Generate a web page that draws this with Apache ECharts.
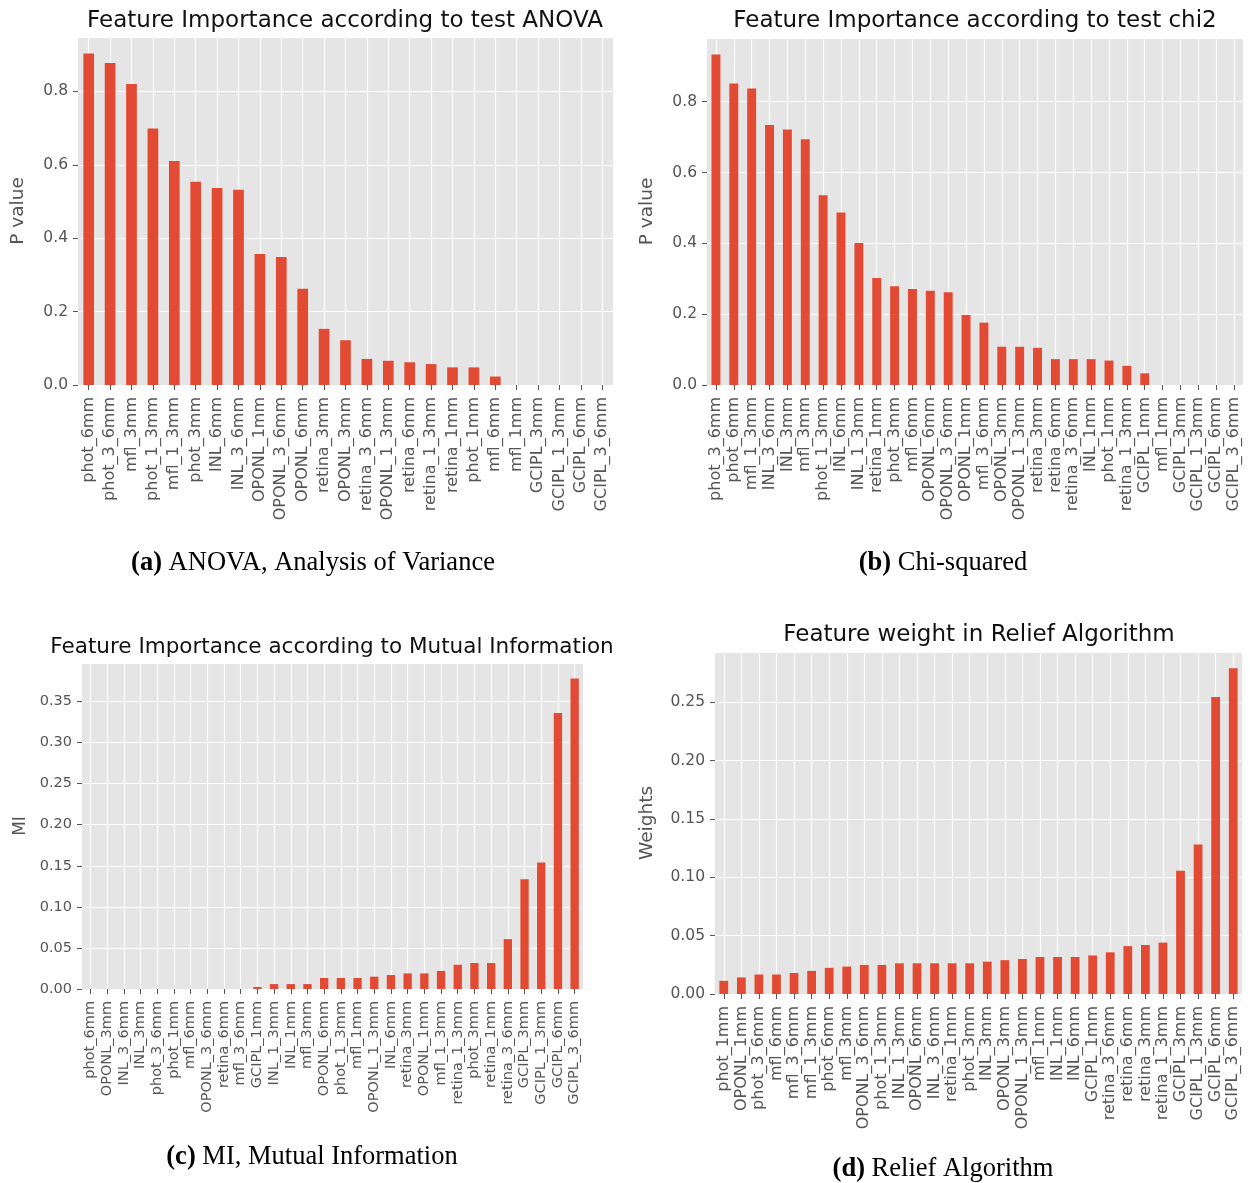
<!DOCTYPE html>
<html>
<head>
<meta charset="utf-8">
<script src="https://cdn.jsdelivr.net/npm/echarts@6/dist/echarts.min.js"></script>
<style>
html,body{margin:0;padding:0;background:#fff;}
#chart{width:1250px;height:1183px;}
</style>
</head>
<body>
<div id="chart"></div>
<script>
// ---------- DATA ----------
const anovaCats = ['phot_6mm','phot_3_6mm','mfl_3mm','phot_1_3mm','mfl_1_3mm','phot_3mm','INL_6mm','INL_3_6mm','OPONL_1mm','OPONL_3_6mm','OPONL_6mm','retina_3mm','OPONL_3mm','retina_3_6mm','OPONL_1_3mm','retina_6mm','retina_1_3mm','retina_1mm','phot_1mm','mfl_6mm','mfl_1mm','GCIPL_3mm','GCIPL_1_3mm','GCIPL_6mm','GCIPL_3_6mm'];
const anovaVals = [0.903,0.877,0.820,0.699,0.610,0.554,0.537,0.532,0.357,0.349,0.262,0.153,0.122,0.071,0.066,0.062,0.057,0.048,0.048,0.023,0,0,0,0,0];

const chi2Cats = ['phot_3_6mm','phot_6mm','mfl_1_3mm','INL_3_6mm','INL_3mm','mfl_3mm','phot_1_3mm','INL_6mm','INL_1_3mm','retina_1mm','phot_3mm','mfl_6mm','OPONL_6mm','OPONL_3_6mm','OPONL_1mm','mfl_3_6mm','OPONL_3mm','OPONL_1_3mm','retina_3mm','retina_6mm','retina_3_6mm','INL_1mm','phot_1mm','retina_1_3mm','GCIPL_1mm','mfl_1mm','GCIPL_3mm','GCIPL_1_3mm','GCIPL_6mm','GCIPL_3_6mm'];
const chi2Vals = [0.933,0.851,0.837,0.734,0.721,0.694,0.536,0.487,0.401,0.302,0.279,0.271,0.266,0.262,0.198,0.176,0.108,0.108,0.105,0.073,0.073,0.073,0.069,0.054,0.033,0,0,0,0,0];

const miCats = ['phot_6mm','OPONL_3mm','INL_3_6mm','INL_3mm','phot_3_6mm','phot_1mm','mfl_6mm','OPONL_3_6mm','retina_6mm','mfl_3_6mm','GCIPL_1mm','INL_1_3mm','INL_1mm','mfl_3mm','OPONL_6mm','phot_1_3mm','mfl_1mm','OPONL_1_3mm','INL_6mm','retina_3mm','OPONL_1mm','mfl_1_3mm','retina_1_3mm','phot_3mm','retina_1mm','retina_3_6mm','GCIPL_3mm','GCIPL_1_3mm','GCIPL_6mm','GCIPL_3_6mm'];
const miVals = [0,0,0,0,0,0,0,0,0,0,0.0024,0.006,0.006,0.006,0.0134,0.0134,0.0134,0.015,0.017,0.019,0.019,0.022,0.0295,0.0316,0.0316,0.0607,0.1335,0.154,0.336,0.378];

const reliefCats = ['phot_1mm','OPONL_1mm','phot_3_6mm','mfl_6mm','mfl_3_6mm','mfl_1_3mm','phot_6mm','mfl_3mm','OPONL_3_6mm','phot_1_3mm','INL_1_3mm','OPONL_6mm','INL_3_6mm','retina_1mm','phot_3mm','INL_3mm','OPONL_3mm','OPONL_1_3mm','mfl_1mm','INL_1mm','INL_6mm','GCIPL_1mm','retina_3_6mm','retina_6mm','retina_3mm','retina_1_3mm','GCIPL_3mm','GCIPL_1_3mm','GCIPL_6mm','GCIPL_3_6mm'];
const reliefVals = [0.0113,0.0142,0.0167,0.0167,0.018,0.0198,0.0224,0.0235,0.0249,0.0249,0.0263,0.0263,0.0263,0.0263,0.0263,0.0277,0.029,0.030,0.0317,0.0317,0.0317,0.033,0.0357,0.041,0.042,0.044,0.1056,0.128,0.2545,0.279];

const titles = ['Feature Importance according to test ANOVA','Feature Importance according to test chi2','Feature Importance according to Mutual Information','Feature weight in Relief Algorithm'];
const yNames = ['P value','P value','MI','Weights'];
const yIntervals = [0.2,0.2,0.05,0.05];
const yDecimals = [1,1,2,2];
const captionTags = ['(a)','(b)','(c)','(d)'];
const captionTexts = ['ANOVA, Analysis of Variance','Chi-squared','MI, Mutual Information','Relief Algorithm'];

// ---------- LAYOUT ----------
const panels = [
  {cats: anovaCats, vals: anovaVals, grid:{left:78, top:37, width:535, height:348}, title:{x:345,y:10,fs:23}, xfs:16, yfs:15.5, nfs:18.5, nameGap:50, cap:{x:313,y:550}},
  {cats: chi2Cats, vals: chi2Vals, grid:{left:707, top:38, width:536, height:347}, title:{x:975,y:10,fs:23}, xfs:16, yfs:15.5, nfs:18.5, nameGap:50, cap:{x:943,y:550}},
  {cats: miCats, vals: miVals, grid:{left:82, top:663, width:501, height:326}, title:{x:332,y:636,fs:21.5}, xfs:14.5, yfs:14.5, nfs:17, nameGap:53, cap:{x:312,y:1144}},
  {cats: reliefCats, vals: reliefVals, grid:{left:715, top:652, width:527, height:342}, title:{x:979,y:624,fs:23}, xfs:16, yfs:15.5, nfs:18.5, nameGap:58, cap:{x:943,y:1156}}
];

const BAR = '#E24A33', BG = '#E5E5E5', TXT = '#555555';
const FONT = '"DejaVu Sans", sans-serif';
const SERIF = '"Liberation Serif", "Times New Roman", serif';

const option = {
  animation: false,
  backgroundColor: '#ffffff',
  title: [], grid: [], xAxis: [], yAxis: [], series: []
};

panels.forEach((p, i) => {
  option.title.push({
    text: titles[i], left: p.title.x, top: p.title.y, textAlign: 'center', padding: 0,
    textStyle: {fontFamily: FONT, fontSize: p.title.fs, fontWeight: 'normal', color: '#111'}
  });
  option.title.push({
    text: '{b|' + captionTags[i] + '} ' + captionTexts[i],
    left: p.cap.x, top: p.cap.y, textAlign: 'center', padding: 0,
    textStyle: {fontFamily: SERIF, fontSize: 26.5, fontWeight: 'normal', color: '#000',
      rich: {b: {fontFamily: SERIF, fontSize: 26.5, fontWeight: 'bold', color: '#000'}}}
  });
  option.grid.push(Object.assign({show: true, backgroundColor: BG, borderWidth: 0, containLabel: false}, p.grid));
  const itv = yIntervals[i], dec = yDecimals[i];
  const ymax = Math.max.apply(null, p.vals) * 1.05;
  option.xAxis.push({
    type: 'category', gridIndex: i, data: p.cats, boundaryGap: true,
    axisLine: {show: false},
    axisTick: {show: true, alignWithLabel: true, length: 5, lineStyle: {color: TXT, width: 1}},
    splitLine: {show: true, alignWithLabel: true, lineStyle: {color: '#ffffff', width: 1.2}},
    axisLabel: {interval: 0, rotate: 90, margin: 12, fontFamily: FONT, fontSize: p.xfs, color: TXT}
  });
  option.yAxis.push({
    type: 'value', gridIndex: i, min: 0, max: ymax, interval: itv,
    name: yNames[i], nameLocation: 'middle', nameRotate: 90, nameGap: p.nameGap,
    nameTextStyle: {fontFamily: FONT, fontSize: p.nfs, color: TXT},
    axisLine: {show: false},
    axisTick: {show: true, length: 5, lineStyle: {color: TXT, width: 1}},
    splitLine: {show: true, lineStyle: {color: '#ffffff', width: 1.2}},
    axisLabel: {margin: 10, fontFamily: FONT, fontSize: p.yfs, color: TXT, showMaxLabel: false,
      formatter: function (v) {
        const k = v / itv;
        if (Math.abs(k - Math.round(k)) > 1e-6) return '';
        return v.toFixed(dec);
      }}
  });
  option.series.push({
    type: 'bar', xAxisIndex: i, yAxisIndex: i, data: p.vals, barWidth: '50%',
    itemStyle: {color: BAR}, emphasis: {disabled: true}
  });
});

const chart = echarts.init(document.getElementById('chart'), null, {renderer: 'canvas'});
chart.setOption(option);
</script>
</body>
</html>
